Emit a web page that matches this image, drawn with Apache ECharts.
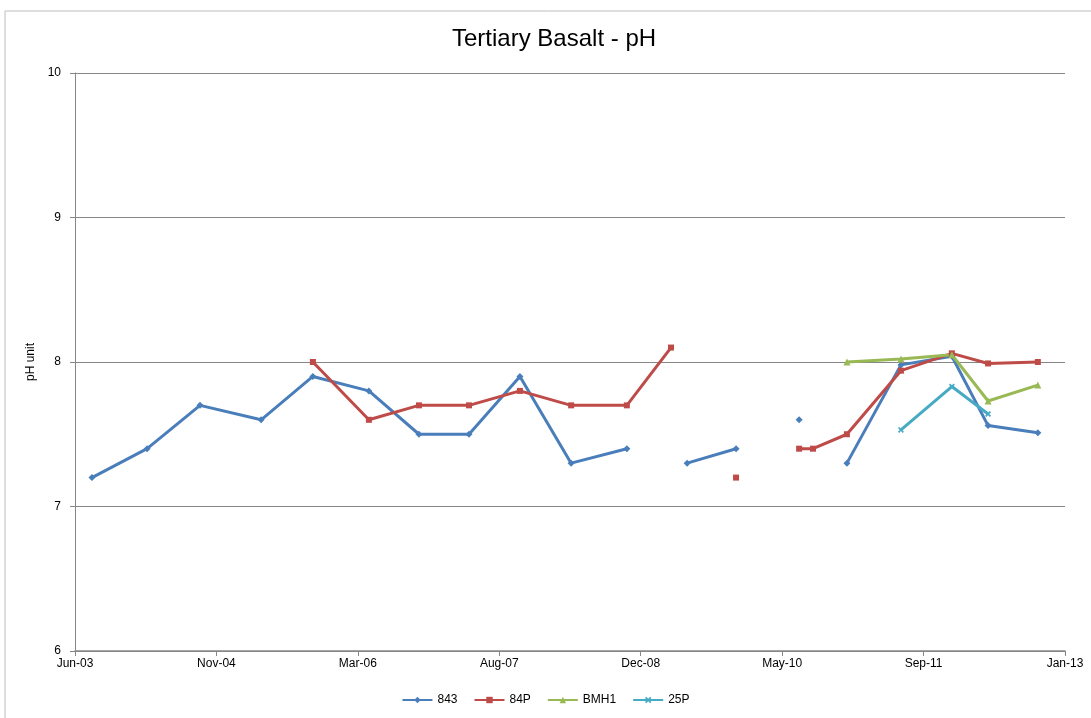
<!DOCTYPE html>
<html>
<head>
<meta charset="utf-8">
<script src="https://cdn.jsdelivr.net/npm/echarts@6/dist/echarts.min.js"></script>
<style>
  html, body { margin: 0; padding: 0; background: #fff; }
  #chart { width: 1091px; height: 718px; }
</style>
</head>
<body>
<div id="chart"></div>
<script>
// sample dates (rows of the sheet); blanks in a series break its line
const dates = [
    '2003-08-27', '2004-03-09', '2004-09-12', '2005-04-16', '2005-10-16',
    '2006-05-02', '2006-10-26', '2007-04-21', '2007-10-18', '2008-04-16',
    '2008-10-30', '2009-04-04', '2009-05-31', '2009-11-20', '2010-03-01',
    '2010-07-01', '2010-08-19', '2010-12-17', '2011-06-26', '2011-12-23',
    '2012-04-29', '2012-10-22'
];
const ph843 = [7.2, 7.4, 7.7, 7.6, 7.9, 7.8, 7.5, 7.5, 7.9, 7.3, 7.4, null, 7.3, 7.4, null, 7.6, null, 7.3, 7.98, 8.04, 7.56, 7.51];
const ph84P = [null, null, null, null, 8.0, 7.6, 7.7, 7.7, 7.8, 7.7, 7.7, 8.1, null, 7.2, null, 7.4, 7.4, 7.5, 7.94, 8.06, 7.99, 8.0];
const phBMH1 = [null, null, null, null, null, null, null, null, null, null, null, null, null, null, null, null, null, 8.0, 8.02, 8.05, 7.73, 7.84];
const ph25P = [null, null, null, null, null, null, null, null, null, null, null, null, null, null, null, null, null, null, 7.53, 7.83, 7.64, null];

// x axis: days from axis start, major unit 500 days
const axisStart = '2003-06-28';
const axisSpanDays = 3500;
const axisStepDays = 500;
const yMin = 6, yMax = 10, yStep = 1;

const DAY = 86400000;
const MONTHS = ['Jan', 'Feb', 'Mar', 'Apr', 'May', 'Jun', 'Jul', 'Aug', 'Sep', 'Oct', 'Nov', 'Dec'];
const startMs = Date.parse(axisStart + 'T00:00:00Z');

function toDays(s) {
    return Math.round((Date.parse(s + 'T00:00:00Z') - startMs) / DAY);
}
function dayLabel(v) {
    const d = new Date(startMs + v * DAY);
    return MONTHS[d.getUTCMonth()] + '-' + String(d.getUTCFullYear() % 100).padStart(2, '0');
}
function pairs(values) {
    return dates.map((s, i) => [toDays(s), values[i] == null ? '-' : values[i]]);
}

const FONT = "'Liberation Sans', sans-serif";
const crossPath = 'path://M2,0L5,3L8,0L10,2L7,5L10,8L8,10L5,7L2,10L0,8L3,5L0,2Z';

function lineSeries(name, values, color, symbol, size) {
    return {
        name: name,
        type: 'line',
        data: pairs(values),
        connectNulls: false,
        showSymbol: true,
        showAllSymbol: true,
        symbol: symbol,
        symbolSize: size,
        lineStyle: { color: color, width: 3 },
        itemStyle: { color: color },
        emphasis: { disabled: true },
        animation: false
    };
}

const chart = echarts.init(document.getElementById('chart'));
chart.setOption({
    backgroundColor: '#fff',
    animation: false,
    graphic: [{
        type: 'rect',
        shape: { x: 5, y: 11, width: 1100, height: 720 },
        style: { fill: 'none', stroke: '#bcbcbc', lineWidth: 1 },
        silent: true
    }],
    title: {
        text: 'Tertiary Basalt - pH',
        left: 447,
        top: 22,
        textStyle: { fontFamily: FONT, fontSize: 24, fontWeight: 'normal', color: '#000' }
    },
    grid: { left: 75, right: 26, top: 73, bottom: 67, containLabel: false },
    legend: {
        bottom: 7,
        left: 'center',
        itemWidth: 30,
        itemHeight: 8,
        itemGap: 16,
        textStyle: { fontFamily: FONT, fontSize: 12, color: '#000' },
        data: ['843', '84P', 'BMH1', '25P']
    },
    xAxis: {
        type: 'value',
        min: 0,
        max: axisSpanDays,
        interval: axisStepDays,
        axisLine: { show: true, lineStyle: { color: '#868686', width: 1.5 } },
        axisTick: { show: true, length: 5, lineStyle: { color: '#868686' } },
        axisLabel: {
            formatter: dayLabel,
            fontFamily: FONT, fontSize: 12, color: '#000', margin: 7,
            showMinLabel: true, showMaxLabel: true
        },
        splitLine: { show: false }
    },
    yAxis: {
        type: 'value',
        min: yMin,
        max: yMax,
        interval: yStep,
        name: 'pH unit',
        nameLocation: 'middle',
        nameRotate: 90,
        nameGap: 34,
        nameTextStyle: { fontFamily: FONT, fontSize: 12, color: '#000' },
        axisLine: { show: true, lineStyle: { color: '#868686' } },
        axisTick: { show: true, length: 5, lineStyle: { color: '#868686' } },
        axisLabel: { fontFamily: FONT, fontSize: 12, color: '#000', margin: 14 },
        splitLine: { show: true, lineStyle: { color: '#868686', width: 1 } }
    },
    series: [
        lineSeries('843', ph843, '#4a7ebb', 'diamond', 7),
        lineSeries('84P', ph84P, '#be4b48', 'rect', 6),
        lineSeries('BMH1', phBMH1, '#98b954', 'triangle', 7),
        lineSeries('25P', ph25P, '#46aac5', crossPath, 6)
    ]
});
</script>
</body>
</html>
